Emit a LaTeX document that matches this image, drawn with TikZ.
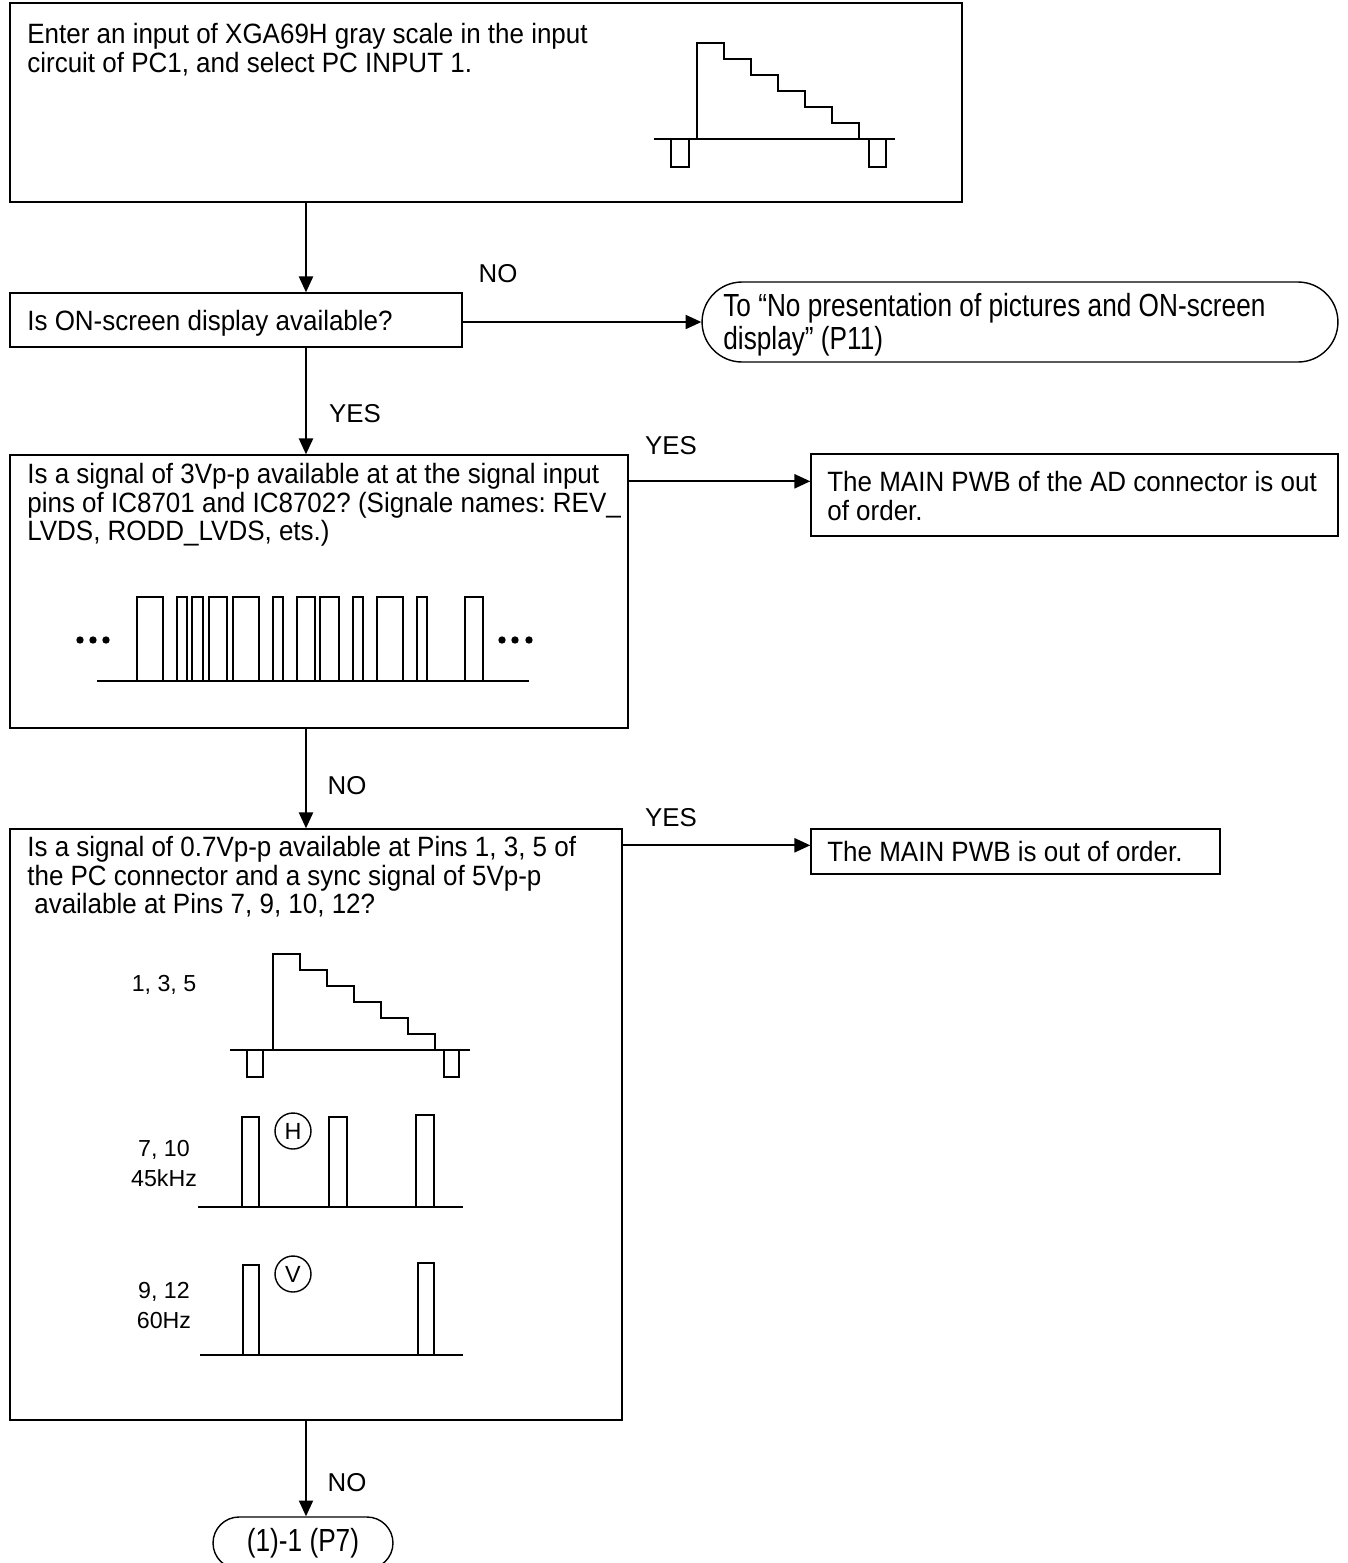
\documentclass[tikz,border=0pt]{standalone}
\usepackage{fontspec}
\setmainfont{Liberation Sans}
\newfontfamily\bodyfont[FakeStretch=0.93]{Liberation Sans}
\newfontfamily\termfont[FakeStretch=0.82]{Liberation Sans}
\usetikzlibrary{arrows.meta, positioning, shapes.misc, calc, fit}
\frenchspacing

\begin{document}
\begin{tikzpicture}[x=0.02cm, y=-0.02cm,
    box/.style={rectangle, draw, line width=0.8pt, inner sep=0pt},
    term/.style={rounded rectangle, draw, line width=0.8pt, inner sep=0pt},
    txt/.style={anchor=north west, align=left, inner sep=0pt,
                font=\bodyfont\fontsize{15.9pt}{16.3pt}\selectfont},
    ttxt/.style={anchor=north west, align=left, inner sep=0pt,
                font=\termfont\fontsize{18.2pt}{18.7pt}\selectfont},
    lbl/.style={inner sep=0pt, font=\fontsize{14.7pt}{17pt}\selectfont},
    pinlbl/.style={anchor=north, align=center, inner sep=0pt,
                font=\fontsize{13.2pt}{17pt}\selectfont},
    sig/.style={circle, draw, line width=0.8pt, minimum size=0.72cm, inner sep=0pt,
                font=\fontsize{13.3pt}{15pt}\selectfont},
    arr/.style={line width=1.1pt, -{Triangle[length=9pt, width=8pt]}},
    wave/.style={line width=1pt},
  ]
    \useasboundingbox (0,0) rectangle (1348,1563);

    % boxes
    \node[box, fit={(10,3) (962,202)}] (q1) {};
    \node[box, fit={(10,293) (462,347)}] (q2) {};
    \node[term, minimum width=12.72cm, minimum height=1.6cm] (t1) at (1020,322) {};
    \node[box, fit={(10,455) (628,728)}] (q3) {};
    \node[box, fit={(811,454) (1338,536)}] (r1) {};
    \node[box, fit={(10,829) (622,1420)}] (q4) {};
    \node[box, fit={(811,829) (1220,874)}] (r2) {};
    \node[term, minimum width=3.6cm, minimum height=1.04cm,
          font=\termfont\fontsize{18.2pt}{18.7pt}\selectfont] (t2) at (303,1543) {(1)-1 (P7)};

    % texts
    \node[txt] (q1t) at (27,23) {Enter an input of XGA69H gray scale in the input\\circuit of PC1, and select PC INPUT 1.};
    \node[txt] (q2t) at (27,310) {Is ON-screen display available?};
    \node[ttxt] (t1t) at (723,293) {To “No presentation of pictures and ON-screen\\display” (P11)};
    \node[txt] (q3t) at (27,463) {Is a signal of 3Vp-p available at at the signal input\\pins of IC8701 and IC8702? (Signale names: REV\_\\LVDS, RODD\_LVDS, ets.)};
    \node[txt] (r1t) at (827,471) {The MAIN PWB of the AD connector is out\\of order.};
    \node[txt] (q4t) at (27,836) {Is a signal of 0.7Vp-p available at Pins 1, 3, 5 of\\the PC connector and a sync signal of 5Vp-p\\\hspace*{0.25em}available at Pins 7, 9, 10, 12?};
    \node[txt] (r2t) at (827,841) {The MAIN PWB is out of order.};

    % connectors
    \coordinate (spine) at (306,0);
    \draw[arr] (q1.south -| spine) -- (q2.north -| spine);
    \draw[arr] (q2.south -| spine) -- (q3.north -| spine);
    \draw[arr] (q3.south -| spine) -- (q4.north -| spine);
    \draw[arr] (q4.south -| spine) -- (t2.north -| spine);
    \draw[arr] (q2.east |- t1.west) -- (t1.west);
    \draw[arr] ($(q3.north east)+(0,27)$) coordinate (a3) -- (a3 -| r1.west);
    \draw[arr] ($(q4.north east)+(0,17)$) coordinate (a4) -- (a4 -| r2.west);

    \node[lbl] (no1) at (498,274) {NO};
    \node[lbl] (yes1) at (355,414) {YES};
    \node[lbl] (yes2) at (671,446) {YES};
    \node[lbl] (no2) at (347,786) {NO};
    \node[lbl] (yes3) at (671,818) {YES};
    \node[lbl] (no3) at (347,1483) {NO};

    % gray scale, PC1 input
    \begin{scope}[shift={(697,139)}]
      \draw[wave] (-43,0) -- (198,0);
      \draw[wave] (-26,0) -- (-26,28) -- (-8,28) -- (-8,0);
      \draw[wave] (172,0) -- (172,28) -- (189,28) -- (189,0);
      \draw[wave] (0,0) \foreach \k in {0,...,5}{ -- ({27*\k},{-96+16*\k}) -- ({27*\k+27},{-96+16*\k}) } -- (162,0);
    \end{scope}

    % LVDS data
    \draw[wave] (97,681) -- (529,681);
    \foreach \a/\b in {137/163, 177/187, 192/203, 209/227, 233/259, 273/283,
                       297/315, 320/339, 353/363, 377/403, 417/427, 465/483}
      \draw[wave] (\a,681) |- (\b,597) -- (\b,681);
    \foreach \x in {80,93,106,502,515,529}
      \fill (\x,640) circle[radius=2.1pt];

    % pins 1, 3, 5
    \node[pinlbl] (p135) at (164,975) {1, 3, 5};
    \begin{scope}[shift={(273,1050)}]
      \draw[wave] (-43,0) -- (197,0);
      \draw[wave] (-26,0) -- (-26,27) -- (-10,27) -- (-10,0);
      \draw[wave] (171,0) -- (171,27) -- (186,27) -- (186,0);
      \draw[wave] (0,0) \foreach \k in {0,...,5}{ -- ({27*\k},{-96+16*\k}) -- ({27*\k+27},{-96+16*\k}) } -- (162,0);
    \end{scope}

    % pins 7, 10 (H)
    \node[pinlbl] (p710) at (164,1140) {7, 10\\45kHz};
    \draw[wave] (198,1207) -- (463,1207);
    \foreach \a/\b/\t in {242/259/1117, 329/347/1117, 416/434/1115}
      \draw[wave] (\a,1207) |- (\b,\t) -- (\b,1207);
    \node[sig] (hmark) at (293,1131) {H};

    % pins 9, 12 (V)
    \node[pinlbl] (p912) at (164,1282) {9, 12\\60Hz};
    \draw[wave] (200,1355) -- (463,1355);
    \foreach \a/\b/\t in {243/259/1265, 418/434/1263}
      \draw[wave] (\a,1355) |- (\b,\t) -- (\b,1355);
    \node[sig] (vmark) at (293,1274) {V};
  \end{tikzpicture}
\end{document}
